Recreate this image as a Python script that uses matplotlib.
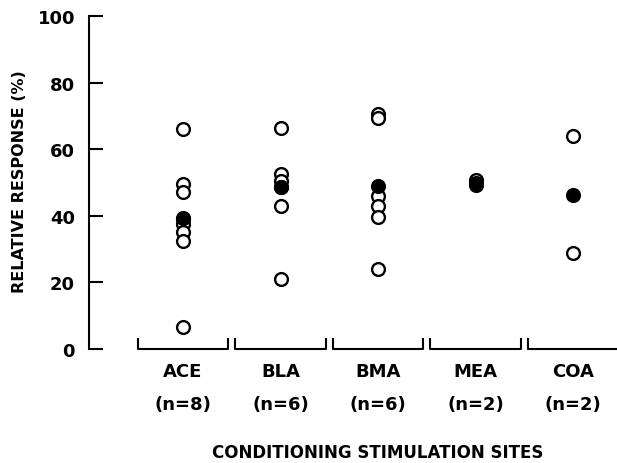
import matplotlib.pyplot as plt
import matplotlib.transforms as mtransforms

# gruplar ve n sayilari
sites = ["ACE", "BLA", "BMA", "MEA", "COA"]
n_labels = ["(n=8)", "(n=6)", "(n=6)", "(n=2)", "(n=2)"]

# tek tek hayvan degerleri (acik daire)
ace_vals = [66, 49.5, 47, 39, 37.5, 35, 32.5, 6.5]
bla_vals = [66.5, 52.5, 50.5, 48.5, 43, 21]
bma_vals = [70.5, 69.5, 46, 43, 39.5, 24]
mea_vals = [50.7, 49.2]
coa_vals = [64, 28.8]

# ortalamalar (dolu daire)
means = [39.2, 48.5, 48.8, 50.0, 46.3]

plt.rcParams["font.family"] = ["DejaVu Sans"]

fig = plt.figure(figsize=(6.17, 4.64), dpi=100)
ax = fig.add_axes([89 / 617, 114 / 464, 1 - 89 / 617, 333 / 464])

groups = [ace_vals, bla_vals, bma_vals, mea_vals, coa_vals]
for i, vals in enumerate(groups):
    ax.plot([i] * len(vals), vals, "o", mfc="white", mec="black",
            ms=9.2, mew=1.7, clip_on=False, zorder=3)
    ax.plot(i, means[i], "o", mfc="black", mec="black",
            ms=9.2, mew=1.7, clip_on=False, zorder=4)

# alt koseli parantezler
for i in range(len(sites)):
    ax.plot([i - 0.465, i - 0.465, i + 0.465, i + 0.465], [3.0, 0.0, 0.0, 3.0],
            color="black", lw=1.5, clip_on=False)

ax.set_xlim(-0.964, 4.45)
ax.set_ylim(0, 100)
ax.set_yticks([0, 20, 40, 60, 80, 100])
ax.set_xticks([])
ax.tick_params(axis="y", direction="in", length=10, width=1.5, pad=10,
               labelsize=13)
for lab in ax.get_yticklabels():
    lab.set_fontweight("bold")

for s in ["top", "right", "bottom"]:
    ax.spines[s].set_visible(False)
ax.spines["left"].set_linewidth(1.5)

trans = mtransforms.blended_transform_factory(ax.transData, fig.transFigure)
for i, (name, nl) in enumerate(zip(sites, n_labels)):
    ax.text(i, 1 - 372 / 464, name, transform=trans, ha="center",
            va="center", fontsize=13, fontweight="bold")
    ax.text(i, 1 - 405 / 464, nl, transform=trans, ha="center",
            va="center", fontsize=13, fontweight="bold")

ax.text(2, 1 - 453 / 464, "CONDITIONING STIMULATION SITES", transform=trans,
        ha="center", va="center", fontsize=12, fontweight="bold")
fig.text(20 / 617, 1 - 182 / 464, "RELATIVE RESPONSE (%)", rotation=90,
         ha="center", va="center", fontsize=11.5, fontweight="bold")

fig.savefig("out.png", dpi=100)
